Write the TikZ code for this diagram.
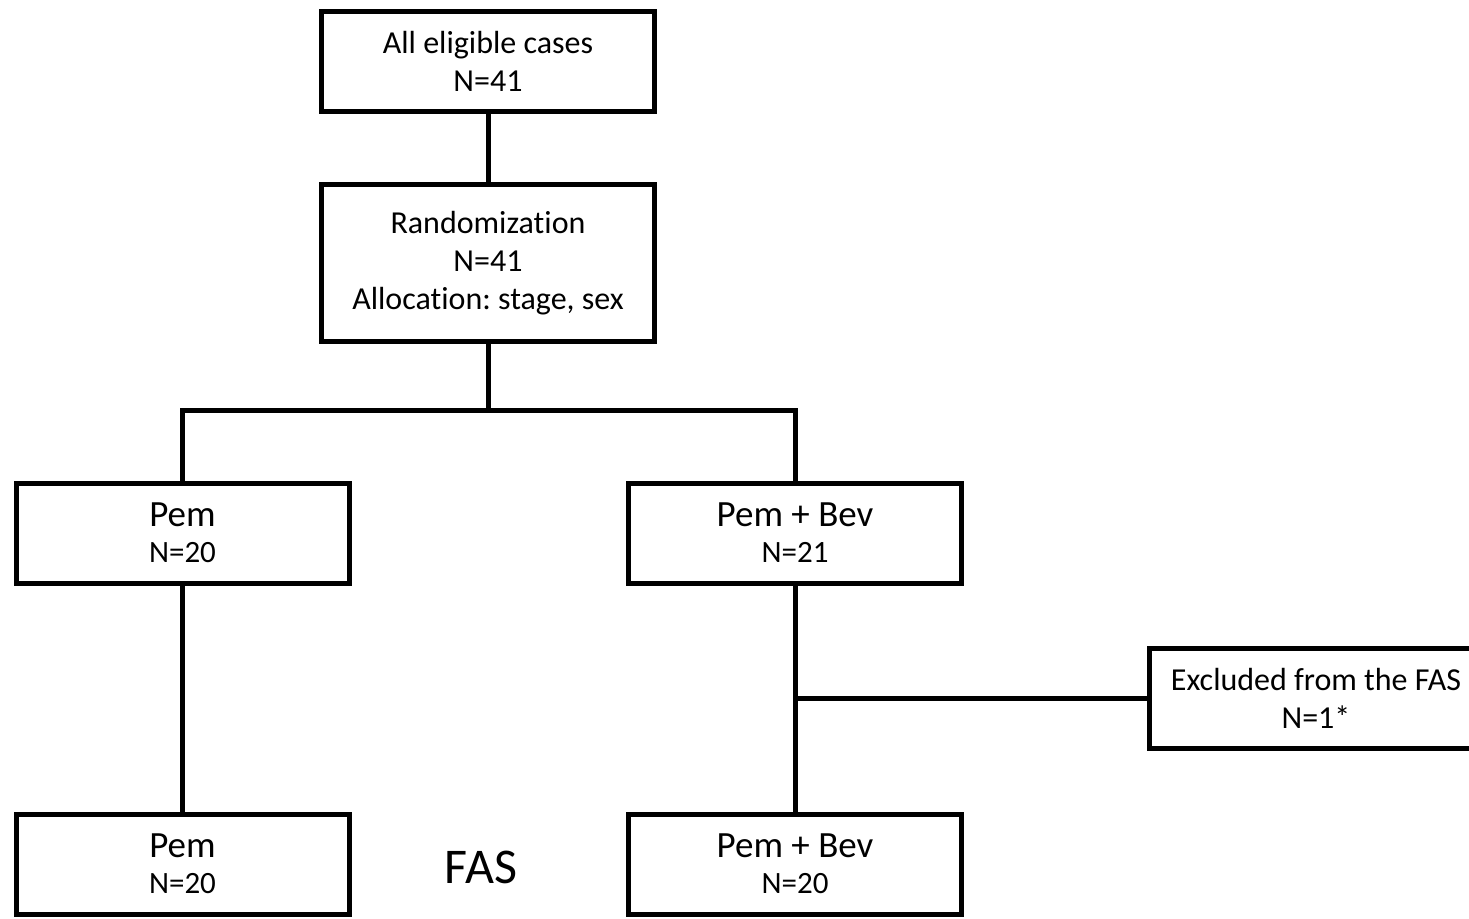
\documentclass[tikz,border=0pt]{standalone}
\usepackage{fontspec}
\setmainfont{Carlito}[Ligatures=NoCommon]
\frenchspacing
\usetikzlibrary{calc}

\tikzset{
  stage/.style={draw, line width=5pt, line join=miter, inner sep=0pt,
    minimum width=333pt, align=center, font=\fontsize{32}{38}\selectfont},
  arm/.style={stage, minimum height=100pt, font=\fontsize{31}{36}\selectfont},
  link/.style={line width=5pt, line join=miter}
}
\newcommand{\armname}[1]{{\fontsize{37}{44}\selectfont #1}}

\begin{document}
\begin{tikzpicture}[x=1pt, y=-1pt]

\useasboundingbox (0,0) rectangle (1469,918);

%% Boxes %%
% screening and randomization %
\node[stage, minimum height=100pt] (cases) at (488,61) {All eligible cases\\N=41};
\node[stage, minimum height=157pt] (rand) at (488,263) {Randomization\\N=41\\Allocation: stage, sex};

% treatment arms %
\node[arm] (pem) at (182.5,533) {\armname{Pem}\\N=20};
\node[arm] (pembev) at (795,533) {\armname{Pem + Bev}\\N=21};

% exclusion %
\node[stage, minimum height=100pt] (excl) at (1316,698.5) {Excluded from the FAS\\N=1*};

% full analysis set %
\node[arm] (pemfas) at (182.5,864) {\armname{Pem}\\N=20};
\node[arm] (pembevfas) at (795,864) {\armname{Pem + Bev}\\N=20};
\node[font=\fontsize{50}{56}\selectfont] (fas) at (481,867) {FAS};

%% Connection lines %%
\coordinate (split) at (488,410);
\draw[link] (cases) -- (rand);
\draw[link] (rand) -- (split);
\draw[link] (pem.north) |- (split) -| (pembev.north);
\draw[link] (pem) -- (pemfas);
\draw[link] (pembev) -- (pembevfas);
\draw[link] (excl.west) -- (excl.west -| pembev);

\end{tikzpicture}
\end{document}
